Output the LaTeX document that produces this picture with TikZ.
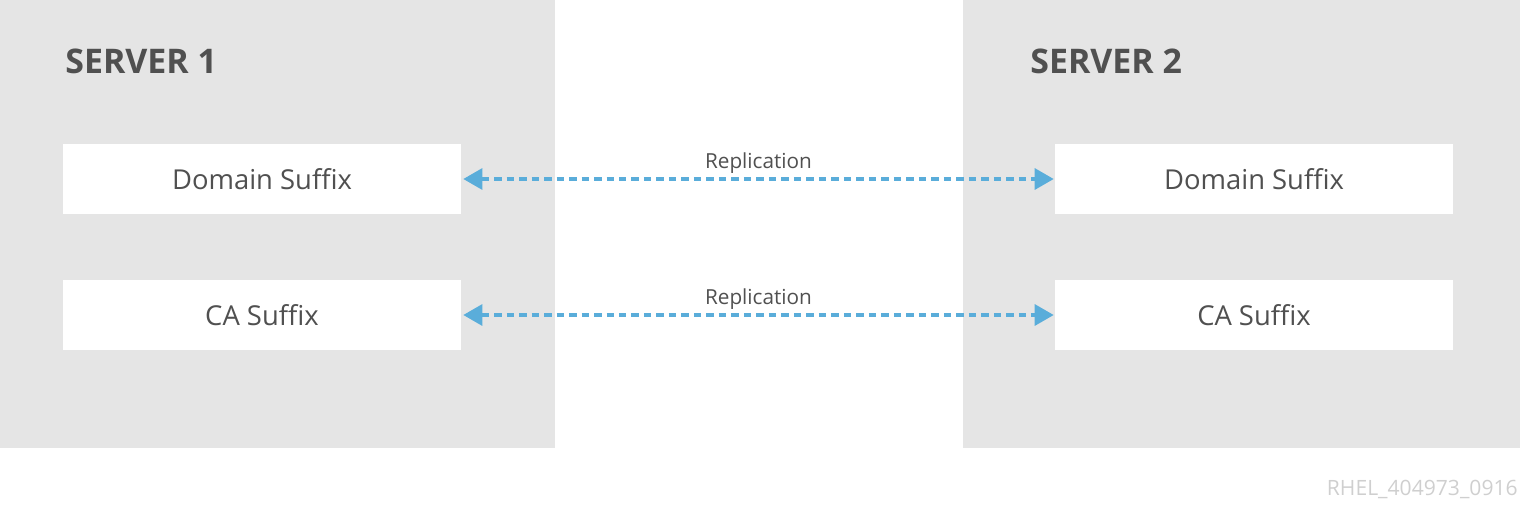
\documentclass[tikz,border=0pt]{standalone}
\usepackage{fontspec}
\setmainfont{Open Sans}
\usepackage{tikz}
\usetikzlibrary{arrows.meta,
                calc,
                positioning}
\definecolor{panelgrey}{HTML}{E5E5E5}
\definecolor{textgrey}{HTML}{505050}
\definecolor{linkblue}{HTML}{5AADDA}
\definecolor{markgrey}{HTML}{CFCFCF}
\tikzset{
  suffixbox/.style={fill=white,minimum width=7.96cm,minimum height=1.42cm,
    inner sep=0pt,text=textgrey,font=\fontsize{15.6}{18}\selectfont},
  servertitle/.style={anchor=west,inner sep=0pt,text=textgrey,
    font=\fontsize{19.3}{22}\selectfont\bfseries},
  repl/.style={{Triangle[length=0.38cm,width=0.42cm]}-{Triangle[length=0.38cm,width=0.42cm]},
    linkblue,line width=1.8pt,dash pattern=on 0.15cm off 0.1cm},
  repllabel/.style={text=textgrey,font=\fontsize{11.8}{14}\selectfont,inner sep=0pt}
}
\begin{document}
\begin{tikzpicture}[x=0.02cm,y=-0.02cm]
  \useasboundingbox (0,0) rectangle (1520,510);
  % grey panels
  \fill[panelgrey] (0,0) rectangle (555,448);
  \fill[panelgrey] (963,0) rectangle (1520,448);
  % servers
  \foreach \s/\x/\t in {1/0/65,2/992/1030}{%
    \node[servertitle] (T-\s) at (\t,61) {SERVER \s};
    \node[suffixbox] (D-\s) at (\x+262,179) {Domain Suffix};
    \node[suffixbox] (C-\s) at (\x+262,315) {CA Suffix};
  }
  % replication
  \foreach \n in {D,C}{%
    \draw[repl] ($(\n-1.east)+(2,0)$) -- ($(\n-2.west)+(-1,0)$)
      node[repllabel,midway,above=0.08cm] (R-\n) {Replication};
  }
  \node[anchor=east,inner sep=0pt,text=markgrey,font=\fontsize{12}{14}\selectfont]
    (mark) at (1518,489) {RHEL\_404973\_0916};
\end{tikzpicture}
\end{document}
